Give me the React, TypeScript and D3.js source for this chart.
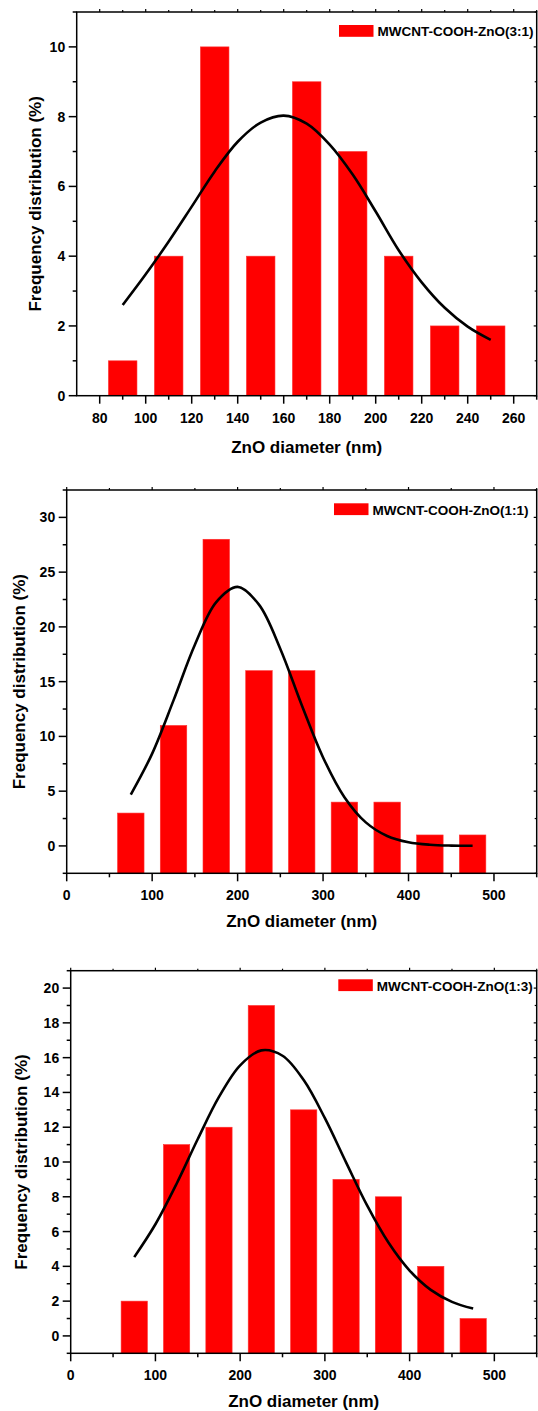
import React from 'react';
import * as d3 from 'd3';

// Particle-size histograms (bin centres, frequency %) for the three composites
const sizes31 = [90, 110, 130, 150, 170, 190, 210, 230, 250];
const freq31 = [1, 4, 10, 4, 9, 7, 4, 2, 2];
const sizes11 = [75, 125, 175, 225, 275, 325, 375, 425, 475];
const freq11 = [3, 11, 28, 16, 16, 4, 4, 1, 1];
const sizes13 = [75, 125, 175, 225, 275, 325, 375, 425, 475];
const freq13 = [2, 11, 12, 19, 13, 9, 8, 4, 1];

// Gaussian fit curves, sampled along the diameter axis
const fitX31 = [90, 100, 110, 120, 130, 140, 150, 160, 170, 180, 190, 200, 210, 220, 230, 240, 250];
const fitY31 = [2.6, 3.48, 4.42, 5.42, 6.43, 7.28, 7.83, 8.03, 7.8, 7.2, 6.34, 5.28, 4.17, 3.25, 2.52, 1.98, 1.6];
const fitX11 = [75, 100, 125, 150, 175, 200, 225, 250, 275, 300, 325, 350, 375, 400, 425, 450, 475];
const fitY11 = [4.69, 8.43, 13.29, 18.37, 22.26, 23.65, 22.03, 17.99, 12.87, 8.08, 4.45, 2.15, 0.91, 0.34, 0.11, 0.03, 0.01];
const fitX13 = [75, 100, 125, 150, 175, 200, 225, 250, 275, 300, 325, 350, 375, 400, 425, 450, 475];
const fitY13 = [4.53, 6.42, 8.75, 11.32, 13.74, 15.56, 16.42, 16.11, 14.71, 12.52, 9.98, 7.49, 5.37, 3.76, 2.65, 1.96, 1.57];

// Tick values
const xTicks31 = [80, 100, 120, 140, 160, 180, 200, 220, 240, 260];
const xMinor31 = [90, 110, 130, 150, 170, 190, 210, 230, 250, 270];
const yTicks31 = [0, 2, 4, 6, 8, 10];
const yMinor31 = [1, 3, 5, 7, 9, 11];
const xTicksWide = [0, 100, 200, 300, 400, 500];
const xMinorWide = [50, 150, 250, 350, 450, 550];
const yTicks11 = [0, 5, 10, 15, 20, 25, 30];
const yMinor11 = [-2.5, 2.5, 7.5, 12.5, 17.5, 22.5, 27.5, 32.5];
const yTicks13 = [0, 2, 4, 6, 8, 10, 12, 14, 16, 18, 20];
const yMinor13 = [-1, 1, 3, 5, 7, 9, 11, 13, 15, 17, 19, 21];

const legend31 = 'MWCNT-COOH-ZnO(3:1)';
const legend11 = 'MWCNT-COOH-ZnO(1:1)';
const legend13 = 'MWCNT-COOH-ZnO(1:3)';

const xTitle = 'ZnO diameter (nm)';
const yTitle = 'Frequency distribution (%)';

const FONT = '"Liberation Sans", Arial, sans-serif';
const RED = '#ff0000';

interface PanelCfg {
  left: number; right: number; top: number; bottom: number;
  xDomain: [number, number]; yDomain: [number, number];
  centers: number[]; values: number[]; binWidth: number;
  fitX: number[]; fitY: number[];
  xTicks: number[]; xMinor: number[]; yTicks: number[]; yMinor: number[];
  legend: string; legendX: number; legendY: number;
  yTitleX: number; xTitleY: number;
}

const panels: PanelCfg[] = [
  {
    left: 76.7, right: 536.7, top: 12, bottom: 395.7,
    xDomain: [70, 270], yDomain: [0, 11],
    centers: sizes31, values: freq31, binWidth: 20,
    fitX: fitX31, fitY: fitY31,
    xTicks: xTicks31, xMinor: xMinor31, yTicks: yTicks31, yMinor: yMinor31,
    legend: legend31, legendX: 339, legendY: 25,
    yTitleX: 40.5, xTitleY: 452.5,
  },
  {
    left: 66.7, right: 536.7, top: 490, bottom: 873.3,
    xDomain: [0, 550], yDomain: [-2.5, 32.5],
    centers: sizes11, values: freq11, binWidth: 50,
    fitX: fitX11, fitY: fitY11,
    xTicks: xTicksWide, xMinor: xMinorWide, yTicks: yTicks11, yMinor: yMinor11,
    legend: legend11, legendX: 334, legendY: 503.3,
    yTitleX: 24.5, xTitleY: 926.5,
  },
  {
    left: 70.7, right: 536.7, top: 970.7, bottom: 1353.3,
    xDomain: [0, 550], yDomain: [-1, 21],
    centers: sizes13, values: freq13, binWidth: 50,
    fitX: fitX13, fitY: fitY13,
    xTicks: xTicksWide, xMinor: xMinorWide, yTicks: yTicks13, yMinor: yMinor13,
    legend: legend13, legendX: 338.3, legendY: 979.3,
    yTitleX: 26.5, xTitleY: 1406.5,
  },
];

function Panel({ cfg }: { cfg: PanelCfg }) {
  const x = d3.scaleLinear().domain(cfg.xDomain).range([cfg.left, cfg.right]);
  const y = d3.scaleLinear().domain(cfg.yDomain).range([cfg.bottom, cfg.top]);
  const halfBar = (cfg.binWidth * 0.62) / 2;
  const base = y(cfg.yDomain[0]);

  const line = d3
    .line<number>()
    .x((_, i) => x(cfg.fitX[i]))
    .y((d) => y(d))
    .curve(d3.curveCatmullRom.alpha(0.5));

  const inX = (v: number) => v >= cfg.xDomain[0] && v <= cfg.xDomain[1];
  const inY = (v: number) => v >= cfg.yDomain[0] && v <= cfg.yDomain[1];

  return (
    <g>
      {/* histogram bars */}
      {cfg.centers.map((c, i) => {
        const x0 = x(c - halfBar);
        const x1 = x(c + halfBar);
        const yt = y(cfg.values[i]);
        return (
          <rect key={'b' + i} x={x0} y={yt} width={x1 - x0} height={base - yt}
            fill={RED} stroke="#ff3030" strokeWidth={0.6} />
        );
      })}

      {/* Gaussian fit */}
      <path d={line(cfg.fitY) || ''} fill="none" stroke="#000" strokeWidth={2.6}
        strokeLinejoin="round" strokeLinecap="butt" />

      {/* frame */}
      <rect x={cfg.left} y={cfg.top} width={cfg.right - cfg.left} height={cfg.bottom - cfg.top}
        fill="none" stroke="#000" strokeWidth={1.5} />

      {/* bottom axis ticks */}
      {cfg.xTicks.filter(inX).map((t) => (
        <g key={'xt' + t}>
          <line x1={x(t)} x2={x(t)} y1={cfg.bottom} y2={cfg.bottom + 8} stroke="#000" strokeWidth={1.5} />
          <line x1={x(t)} x2={x(t)} y1={cfg.top} y2={cfg.top - 3} stroke="#000" strokeWidth={1.2} />
          <text x={x(t)} y={cfg.bottom + 27} textAnchor="middle" fontFamily={FONT}
            fontWeight="bold" fontSize={14} fill="#000">{t}</text>
        </g>
      ))}
      {cfg.xMinor.filter(inX).map((t) => (
        <g key={'xm' + t}>
          <line x1={x(t)} x2={x(t)} y1={cfg.bottom} y2={cfg.bottom + 4} stroke="#000" strokeWidth={1.5} />
          <line x1={x(t)} x2={x(t)} y1={cfg.top} y2={cfg.top - 2} stroke="#000" strokeWidth={1.2} />
        </g>
      ))}

      {/* left axis ticks */}
      {cfg.yTicks.filter(inY).map((t) => (
        <g key={'yt' + t}>
          <line x1={cfg.left - 8} x2={cfg.left} y1={y(t)} y2={y(t)} stroke="#000" strokeWidth={1.5} />
          <line x1={cfg.right} x2={cfg.right - 3} y1={y(t)} y2={y(t)} stroke="#000" strokeWidth={1.2} />
          <text x={cfg.left - 11.5} y={y(t)} dy="0.36em" textAnchor="end" fontFamily={FONT}
            fontWeight="bold" fontSize={14} fill="#000">{t}</text>
        </g>
      ))}
      {cfg.yMinor.filter(inY).map((t) => (
        <g key={'ym' + t}>
          <line x1={cfg.left - 4} x2={cfg.left} y1={y(t)} y2={y(t)} stroke="#000" strokeWidth={1.5} />
          <line x1={cfg.right} x2={cfg.right - 2} y1={y(t)} y2={y(t)} stroke="#000" strokeWidth={1.2} />
        </g>
      ))}

      {/* axis titles */}
      <text x={(cfg.left + cfg.right) / 2} y={cfg.xTitleY} textAnchor="middle" fontFamily={FONT}
        fontWeight="bold" fontSize={17} fill="#000">{xTitle}</text>
      <text transform={`translate(${cfg.yTitleX},${(cfg.top + cfg.bottom) / 2}) rotate(-90)`}
        textAnchor="middle" fontFamily={FONT} fontWeight="bold" fontSize={17} fill="#000">{yTitle}</text>

      {/* legend */}
      <rect x={cfg.legendX} y={cfg.legendY} width={34.5} height={11.8} fill={RED} />
      <text x={cfg.legendX + 38.5} y={cfg.legendY + 11.3} fontFamily={FONT} fontWeight="bold"
        fontSize={13.5} fill="#000">{cfg.legend}</text>
    </g>
  );
}

export default function App() {
  return (
    <svg width={538} height={1411} viewBox="0 0 538 1411"
      style={{ position: 'absolute', left: 0, top: 0, background: '#fff' }}>
      <rect x={0} y={0} width={538} height={1411} fill="#fff" />
      {panels.map((p, i) => (
        <Panel key={i} cfg={p} />
      ))}
    </svg>
  );
}
